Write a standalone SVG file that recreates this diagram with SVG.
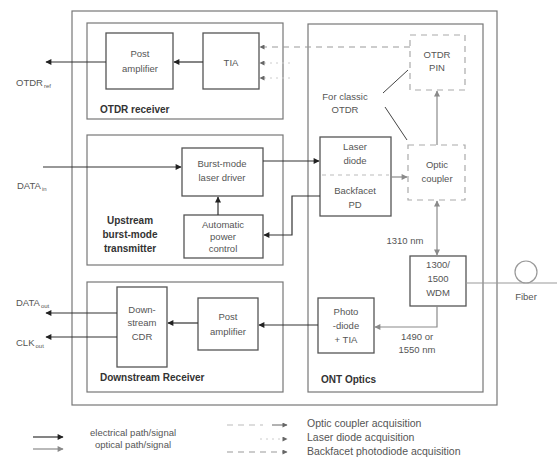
<svg xmlns="http://www.w3.org/2000/svg" width="557" height="457" viewBox="0 0 557 457">
<defs>
<marker id="ae" viewBox="0 0 10 10" refX="9" refY="5" markerWidth="7" markerHeight="6" orient="auto-start-reverse" markerUnits="userSpaceOnUse"><path d="M0,0 L10,5 L0,10 z" fill="#222"/></marker>
<marker id="ao" viewBox="0 0 10 10" refX="9" refY="5" markerWidth="7" markerHeight="6" orient="auto-start-reverse" markerUnits="userSpaceOnUse"><path d="M0,0 L10,5 L0,10 z" fill="#8a8a8a"/></marker>
<marker id="aa" viewBox="0 0 10 10" refX="9" refY="5" markerWidth="6" markerHeight="5" orient="auto-start-reverse" markerUnits="userSpaceOnUse"><path d="M0,0 L10,5 L0,10 z" fill="#666"/></marker>
</defs>
<style>
text{font-family:"Liberation Sans",Arial,sans-serif;fill:#555;font-size:9.5px}
.c{text-anchor:middle}
.b{font-weight:bold;fill:#333;font-size:10px}
.lg{font-size:10.5px}
.box{fill:none;stroke:#555;stroke-width:1.3}
.frame{fill:none;stroke:#777;stroke-width:1.2}
.dbox{fill:none;stroke:#aaa;stroke-width:1.2;stroke-dasharray:6 5}
.el{fill:none;stroke:#333;stroke-width:1.2;marker-end:url(#ae)}
.op{fill:none;stroke:#8a8a8a;stroke-width:1.2;marker-end:url(#ao)}
.acq{fill:none;stroke:#999;stroke-width:1;stroke-dasharray:6 5;marker-end:url(#aa)}
.dot{fill:none;stroke:#ccc;stroke-width:1;stroke-dasharray:2 4;marker-end:url(#aa)}
.sub{font-size:6px}
</style>
<rect width="557" height="457" fill="#fff"/>

<g id="outer"><rect class="frame" x="72" y="11" width="425" height="394"/></g>

<g id="otdr-receiver">
<rect class="frame" x="87" y="23" width="196" height="96"/>
<text class="b" x="100" y="113">OTDR receiver</text>
</g>
<g id="post-amp-otdr"><rect class="box" x="106" y="33" width="67" height="56"/>
<text class="c" x="140" y="57">Post</text><text class="c" x="140" y="72">amplifier</text></g>
<g id="tia"><rect class="box" x="203" y="33" width="56" height="56"/>
<text class="c" x="231" y="66">TIA</text></g>

<g id="upstream">
<rect class="frame" x="87" y="135" width="196" height="130"/>
<text class="b c" x="130" y="224">Upstream</text>
<text class="b c" x="130" y="238">burst-mode</text>
<text class="b c" x="130" y="252">transmitter</text>
</g>
<g id="burst-driver"><rect class="box" x="182" y="148" width="81" height="48"/>
<text class="c" x="222" y="167">Burst-mode</text><text class="c" x="222" y="181">laser driver</text></g>
<g id="apc"><rect class="box" x="184" y="215" width="79" height="43"/>
<text class="c" x="223" y="228">Automatic</text><text class="c" x="223" y="240">power</text><text class="c" x="223" y="252">control</text></g>

<g id="downstream">
<rect class="frame" x="87" y="282" width="196" height="110"/>
<text class="b" x="100" y="381">Downstream Receiver</text>
</g>
<g id="cdr"><rect class="box" x="117" y="287" width="50" height="80"/>
<text class="c" x="142" y="313">Down-</text><text class="c" x="142" y="326">stream</text><text class="c" x="142" y="340">CDR</text></g>
<g id="post-amp-ds"><rect class="box" x="198" y="298" width="60" height="52"/>
<text class="c" x="228" y="320">Post</text><text class="c" x="228" y="335">amplifier</text></g>

<g id="ont-optics">
<rect class="frame" x="308" y="24" width="175" height="368"/>
<text class="b" x="321" y="383">ONT Optics</text>
<text class="c" x="345" y="100">For classic</text>
<text class="c" x="345" y="113">OTDR</text>
<text class="c" x="405" y="244">1310 nm</text>
<text class="c" x="417" y="340">1490 or</text>
<text class="c" x="417" y="353">1550 nm</text>
</g>
<g id="otdr-pin"><rect class="dbox" x="410" y="35" width="55" height="55"/>
<text class="c" x="437" y="58">OTDR</text><text class="c" x="437" y="71">PIN</text></g>
<g id="laser-diode"><rect class="box" x="320" y="137" width="71" height="79"/>
<line x1="322" y1="175" x2="389" y2="175" stroke="#bbb" stroke-width="1" stroke-dasharray="4 4"/>
<text class="c" x="355" y="150">Laser</text><text class="c" x="355" y="164">diode</text>
<text class="c" x="355" y="194">Backfacet</text><text class="c" x="355" y="208">PD</text></g>
<g id="optic-coupler"><rect class="dbox" x="408" y="145" width="57" height="55"/>
<text class="c" x="437" y="168">Optic</text><text class="c" x="437" y="182">coupler</text></g>
<g id="wdm"><rect class="box" x="410" y="256" width="56" height="50"/>
<text class="c" x="438" y="268">1300/</text><text class="c" x="438" y="282">1500</text><text class="c" x="438" y="296">WDM</text></g>
<g id="photodiode"><rect class="box" x="318" y="298" width="56" height="55"/>
<text class="c" x="346" y="315">Photo</text><text class="c" x="346" y="329">-diode</text><text class="c" x="346" y="343">+ TIA</text></g>

<g id="fiber">
<circle cx="526" cy="272" r="11" fill="none" stroke="#999" stroke-width="1.2"/>
<text class="c" x="526" y="300">Fiber</text>
</g>

<g id="labels">
<text x="16" y="86">OTDR<tspan class="sub" dx="1" dy="2">ref</tspan></text>
<text x="17" y="189">DATA<tspan class="sub" dx="1" dy="2">in</tspan></text>
<text x="16" y="306">DATA<tspan class="sub" dx="1" dy="2">out</tspan></text>
<text x="16" y="346">CLK<tspan class="sub" dx="1" dy="2">out</tspan></text>
</g>

<g id="connectors">
<line class="el" x1="203" y1="62" x2="174" y2="62"/>
<line class="el" x1="106" y1="62" x2="46" y2="62"/>
<line class="el" x1="43" y1="167" x2="181" y2="167"/>
<line class="el" x1="263" y1="161" x2="319" y2="161"/>
<line class="el" x1="218" y1="215" x2="218" y2="197"/>
<polyline class="el" points="320,196 292,196 292,235 264,235"/>
<line class="el" x1="318" y1="325" x2="259" y2="325"/>
<line class="el" x1="198" y1="323" x2="168" y2="323"/>
<line class="el" x1="117" y1="313" x2="46" y2="313"/>
<line class="el" x1="117" y1="337" x2="46" y2="337"/>
<line class="op" x1="391" y1="177" x2="407" y2="177"/>
<line class="op" x1="437" y1="201" x2="437" y2="255" style="marker-start:url(#ao)"/>
<line class="op" x1="437" y1="145" x2="437" y2="91"/>
<polyline class="op" points="437,306 437,327 375,327"/>
<line x1="466" y1="283" x2="557" y2="283" stroke="#999" stroke-width="1.2"/>
<line class="acq" x1="410" y1="47" x2="260" y2="47"/>
<line class="dot" x1="290" y1="63" x2="260" y2="63"/>
<line class="dot" x1="290" y1="78" x2="260" y2="78"/>
<line x1="383" y1="93" x2="408" y2="70" stroke="#444" stroke-width="1"/>
<line x1="385" y1="107" x2="407" y2="140" stroke="#444" stroke-width="1"/>
</g>

<g id="legend">
<line class="el" x1="33" y1="437" x2="63" y2="437"/>
<line class="op" x1="33" y1="449" x2="63" y2="449"/>
<text x="90" y="436">electrical path/signal</text>
<text x="95" y="448">optical path/signal</text>
<line x1="227" y1="425" x2="263" y2="425" stroke="#bbb" stroke-width="1" stroke-dasharray="6 5"/>
<line x1="272" y1="425" x2="287" y2="425" stroke="#666" stroke-width="1" marker-end="url(#aa)"/>
<line class="dot" x1="260" y1="439" x2="287" y2="439"/>
<line class="acq" x1="227" y1="452" x2="287" y2="452"/>
<text class="lg" x="307" y="427">Optic coupler acquisition</text>
<text class="lg" x="307" y="441">Laser diode acquisition</text>
<text class="lg" x="307" y="455">Backfacet photodiode acquisition</text>
</g>
</svg>
